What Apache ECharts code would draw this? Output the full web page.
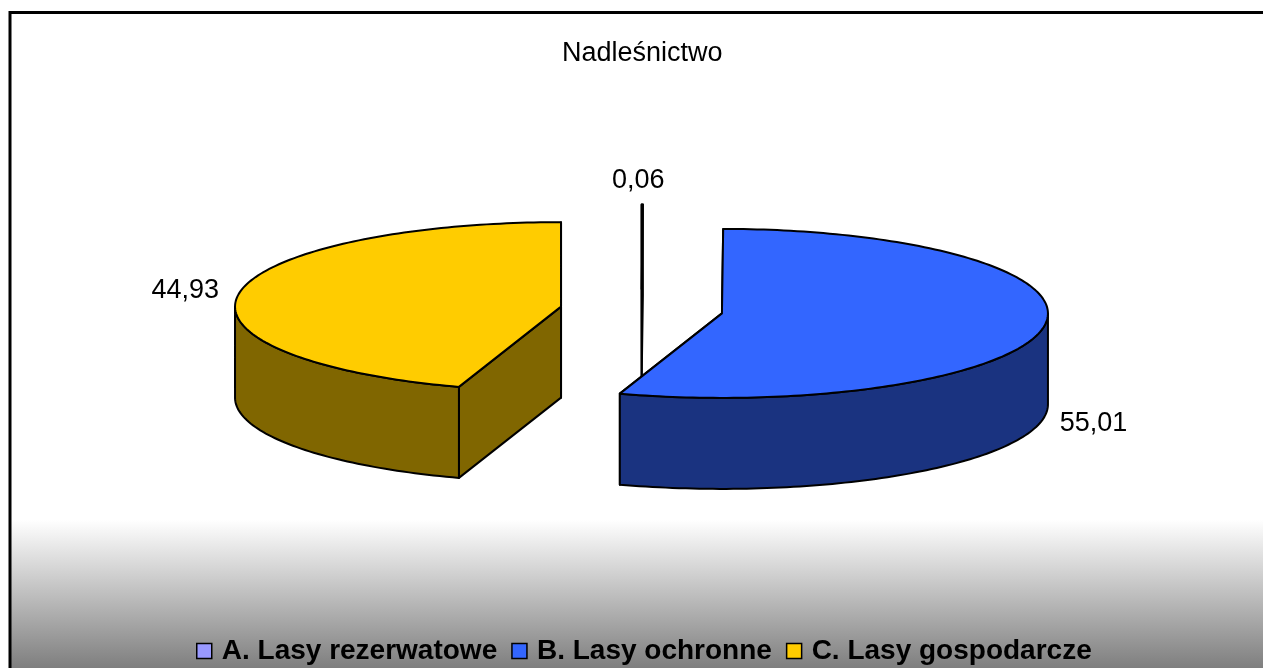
<!DOCTYPE html>
<html>
<head>
<meta charset="utf-8">
<style>
    html, body { margin: 0; padding: 0; background: #fff; }
    #chart { width: 1263px; height: 668px; }
</style>
<script src="https://cdn.jsdelivr.net/npm/echarts@6/dist/echarts.min.js"></script>
</head>
<body>
<div id="chart"></div>
<script>
    const titleText = 'Nadleśnictwo'
    const categories = ['A. Lasy rezerwatowe', 'B. Lasy ochronne', 'C. Lasy gospodarcze']
    const shares = [0.06, 55.01, 44.93]
    const topColors = ['#9999FF', '#3366FF', '#FFCC00']
    const sideColors = ['#4D4D80', '#1A3380', '#806600']

    const font = '"Liberation Sans", Arial, sans-serif'
    const squash = 84.5 / 326 // spłaszczenie koła do elipsy
    const explode = 0.25
    const depth = 91
    const labelDx = [-4, 0, -4]
    const labelDy = [-24, 6, -3]

    // początek i koniec wycinka w procentach
    let sum = 0
    const ranges = shares.map(v => {
        let r = [sum, sum + v]
        sum += v
        return r
    })

    function renderSlice(index, params, api) {
        let cy = params.coordSys.cy
        let cx = params.coordSys.cx
        let [from, to] = ranges[index]
        let mid = (from + to) / 2
        let flat = (r, pct) => {
            let p = api.coord([r, pct])
            return [p[0], cy + (p[1] - cy) * squash]
        }
        // przesunięcie wycinka na zewnątrz
        let shift = flat(explode, mid)
        let dx = shift[0] - cx
        let dy = shift[1] - cy
        let pt = (r, pct, down) => {
            let p = flat(r, pct)
            return [p[0] + dx, p[1] + dy + (down ? depth : 0)]
        }
        let arc = (a, b, down) => {
            let pts = []
            let n = Math.max(2, Math.ceil((b - a) * 3))
            for (let i = 0; i <= n; i++) {
                pts.push(pt(1, a + (b - a) * i / n, down))
            }
            return pts
        }
        let line = {stroke: '#000', lineWidth: 2, lineJoin: 'round'}
        let poly = (points, fill) => ({
            type: 'polygon',
            shape: {points: points},
            style: Object.assign({fill: fill}, line)
        })
        let children = []
        // ściany przekroju
        ;[from, to].forEach(pct => {
            children.push(poly([pt(0, pct), pt(1, pct), pt(1, pct, true), pt(0, pct, true)], sideColors[index]))
        })
        // widoczna ściana boczna, dolna połowa elipsy
        let a = Math.max(from, 25)
        let b = Math.min(to, 75)
        if (a < b) {
            children.push(poly(arc(a, b).concat(arc(a, b, true).reverse()), sideColors[index]))
        }
        // wierzch
        children.push(poly([pt(0, from)].concat(arc(from, to)), topColors[index]))
        // etykieta
        let anchor = pt(1.05, mid)
        let lower = mid > 25 && mid < 75
        let side = anchor[0] - cx - dx
        children.push({
            type: 'text',
            style: {
                text: shares[index].toFixed(2).replace('.', ','),
                x: anchor[0] + labelDx[index],
                y: pt(1, mid, lower)[1] + labelDy[index],
                align: Math.abs(side) < 20 ? 'center' : (side > 0 ? 'left' : 'right'),
                verticalAlign: 'middle',
                fill: '#000',
                font: '27px ' + font
            }
        })
        return {type: 'group', children: children}
    }

    let chart = echarts.init(document.getElementById('chart'))
    chart.setOption({
        animation: false,
        graphic: [{
            type: 'rect',
            z: -1,
            silent: true,
            shape: {x: 10, y: 12.5, width: 1300, height: 655.5 + 20},
            style: {
                stroke: '#000',
                lineWidth: 3,
                fill: new echarts.graphic.LinearGradient(0, 0, 0, 1, [
                    {offset: 0, color: '#fff'},
                    {offset: 0.75, color: '#fff'},
                    {offset: 1, color: '#6c6c6c'}
                ])
            }
        }],
        title: {
            text: titleText,
            left: 562,
            top: 40,
            padding: 0,
            textStyle: {fontFamily: font, fontSize: 27, fontWeight: 'normal', color: '#000'}
        },
        legend: {
            data: categories,
            left: 196,
            top: 637,
            padding: 0,
            icon: 'rect',
            itemWidth: 15,
            itemHeight: 15,
            itemGap: 14,
            selectedMode: false,
            itemStyle: {borderColor: '#000', borderWidth: 1.5},
            textStyle: {fontFamily: font, fontSize: 28, fontWeight: 'bold', color: '#000', padding: [0, 0, 0, 5]}
        },
        polar: {center: [641.5, 310], radius: 326},
        angleAxis: {type: 'value', min: 0, max: 100, startAngle: 90, show: false},
        radiusAxis: {type: 'value', min: 0, max: 1, show: false},
        series: categories.map((name, i) => ({
            type: 'custom',
            name: name,
            coordinateSystem: 'polar',
            clip: false,
            silent: true,
            itemStyle: {color: topColors[i]},
            renderItem: (params, api) => renderSlice(i, params, api),
            data: [[1, ranges[i][1]]]
        }))
    })
</script>
</body>
</html>
